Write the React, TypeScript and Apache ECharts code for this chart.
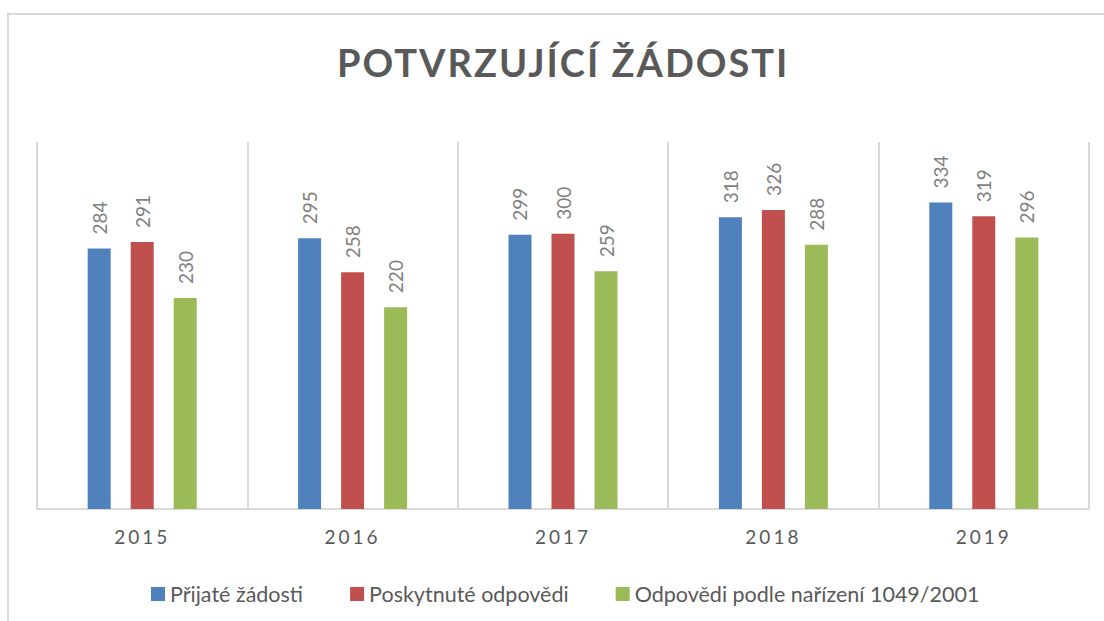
import React, { useEffect, useRef } from "react";
import * as echarts from "echarts";

const title = "POTVRZUJÍCÍ ŽÁDOSTI";
const categories = ["2015", "2016", "2017", "2018", "2019"];
const seriesNames = ["Přijaté žádosti", "Poskytnuté odpovědi", "Odpovědi podle nařízení 1049/2001"];
const prijate = [284, 295, 299, 318, 334];
const poskytnute = [291, 258, 300, 326, 319];
const odpovedi = [230, 220, 259, 288, 296];
const colors = ["#4f81bd", "#c0504d", "#9bbb59"];

export default function App() {
  const ref = useRef<HTMLDivElement>(null);
  useEffect(() => {
    if (!ref.current) return;
    const chart = echarts.init(ref.current, null, { renderer: "svg" });
    const valueLabel = {
      show: true,
      position: "top",
      rotate: 90,
      align: "left",
      verticalAlign: "middle",
      distance: 14,
      color: "#7f7f7f",
      fontFamily: "Lato",
      fontSize: 19,
    };
    const mk = (name: string, data: number[], color: string) => ({
      name,
      type: "bar",
      data,
      barWidth: 23,
      barGap: "87%",
      itemStyle: { color },
      label: valueLabel,
    });
    chart.setOption({
      animation: false,
      backgroundColor: "#ffffff",
      title: {
        text: title,
        left: 332,
        top: 38,
        textStyle: {
          fontFamily: "Lato, TtlFont",
          fontWeight: "bold",
          fontSize: 38,
          color: "#595959",
        },
      },
      graphic: [
        {
          type: "rect",
          shape: { x: 8, y: 14, width: 1300, height: 800 },
          style: { fill: "none", stroke: "#d9d9d9", lineWidth: 2 },
          silent: true,
          z: -1,
        },
      ],
      legend: {
        data: seriesNames,
        left: 146,
        top: 578,
        icon: "rect",
        itemWidth: 14,
        itemHeight: 14,
        itemGap: 47,
        textStyle: { fontFamily: "Lato", fontSize: 21.5, color: "#595959", padding: [0, 0, 0, 0] },
      },
      grid: { left: 37, right: 15, top: 142, bottom: 112, containLabel: false, outerBoundsMode: "none" },
      xAxis: {
        type: "category",
        data: categories,
        axisLine: { show: true, lineStyle: { color: "#d9d9d9", width: 2 } },
        axisTick: { show: false },
        splitLine: { show: true, lineStyle: { color: "#d9d9d9", width: 2 } },
        axisLabel: {
          margin: 18,
          fontFamily: "Lato, AxFont",
          fontSize: 19,
          color: "#595959",
        },
      },
      yAxis: {
        type: "value",
        min: 0,
        max: 400,
        show: false,
        splitLine: { show: false },
      },
      series: [
        mk(seriesNames[0], prijate, colors[0]),
        mk(seriesNames[1], poskytnute, colors[1]),
        mk(seriesNames[2], odpovedi, colors[2]),
      ],
    });
    return () => chart.dispose();
  }, []);
  return (
    <>
      <style>{`
        .chartbox text[style*="TtlFont"], .chartbox text[font-family*="TtlFont"] { letter-spacing: 2px; }
        .chartbox text[style*="AxFont"], .chartbox text[font-family*="AxFont"] { letter-spacing: 3px; }
      `}</style>
      <div
        ref={ref}
        className="chartbox"
        style={{ position: "fixed", left: 0, top: 0, width: 1104, height: 621 }}
      />
    </>
  );
}
